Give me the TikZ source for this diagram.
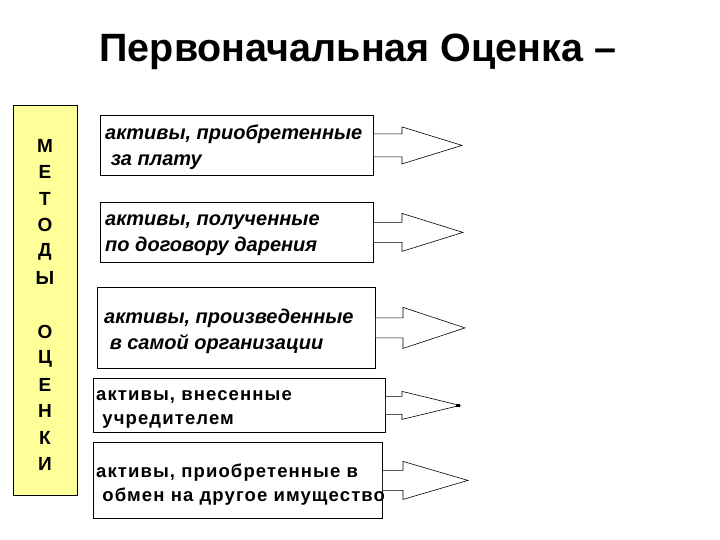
\documentclass[tikz,border=0pt]{standalone}
\usepackage{fontspec}
\setmainfont{Liberation Sans}
\newfontfamily\spacedfont[LetterSpace=6]{Liberation Sans}
\definecolor{paleyellow}{HTML}{FFFF99}
\begin{document}
\begin{tikzpicture}[x=1pt,y=-1pt,
  box/.style={draw=black, line width=0.8pt, fill=white, inner sep=0pt, anchor=north west},
  boxtext/.style={anchor=west, align=left, inner sep=0pt, font=\fontsize{20}{26}\selectfont\bfseries\itshape},
  boxtextup/.style={anchor=west, align=left, inner sep=0pt, font=\fontsize{18.5}{24}\selectfont\bfseries\spacedfont},
  arrowshape/.style={draw=black, line width=0.6pt, fill=white, line join=miter},
  letter/.style={font=\fontsize{19}{19}\selectfont\bfseries, inner sep=0pt}
]
\useasboundingbox (0,0) rectangle (720,540);
\fill[white] (0,0) rectangle (720,540);

% title
\node[font=\fontsize{39.5}{44}\selectfont\bfseries, anchor=center] (title) at (358,52) {Первоначальная Оценка –};

% yellow column
\node[draw=black, line width=0.6pt, fill=paleyellow, minimum width=64pt, minimum height=390pt, anchor=north west, inner sep=0pt] (col) at (13,105) {};
\foreach \t/\yy [count=\i] in {М/146,Е/172.4,Т/198.8,О/225.2,Д/251.6,Ы/278,О/332,Ц/358.4,Е/384.8,Н/411.2,К/437.6,И/464}
  \node[letter] (l\i) at (45,\yy) {\t};

% boxes
\node[box, minimum width=273pt, minimum height=60pt] (b1) at (100,115) {};
\node[box, minimum width=273pt, minimum height=60pt] (b2) at (100,202) {};
\node[box, minimum width=278pt, minimum height=81pt] (b3) at (97,287) {};
\node[box, minimum width=292pt, minimum height=54pt] (b4) at (93,378) {};
\node[box, minimum width=289pt, minimum height=76pt] (b5) at (93,442) {};

% arrows (shaft half-height, head half-height, head base x, tip x)
\foreach \b/\sh/\hh/\base/\tip in {b1/11.5/18.5/402/462, b2/10/19/402/463, b3/10/20.5/403/465, b4/9/14/402/460, b5/10/19/403/468}{
  \coordinate (\b tip) at (\b.east -| \tip,0);
  \draw[arrowshape] ([yshift=-\sh pt]\b.east) -- ([yshift=-\sh pt]\b.east -| \base,0)
     -- ([yshift=-\hh pt]\b.east -| \base,0) -- (\b tip)
     -- ([yshift=\hh pt]\b.east -| \base,0) -- ([yshift=\sh pt]\b.east -| \base,0)
     -- ([yshift=\sh pt]\b.east);
}
\fill[black] ([xshift=-4pt,yshift=-1.2pt]b4tip) rectangle ([yshift=1.2pt]b4tip);

% texts
\node[boxtext] (t1) at ([xshift=5pt,yshift=-2pt]b1.west) {активы, приобретенные\\\ за плату};
\node[boxtext] (t2) at ([xshift=5pt,yshift=-3pt]b2.west) {активы, полученные\\по договору дарения};
\node[boxtext] (t3) at ([xshift=7pt,yshift=-3pt]b3.west) {активы, произведенные\\\ в самой организации};
\node[boxtextup] (t4) at ([xshift=3pt,yshift=-4pt]b4.west) {активы, внесенные\\\ учредителем};
\node[boxtextup] (t5) at ([xshift=3pt,yshift=-4pt]b5.west) {активы, приобретенные в\\\ обмен на другое имущество};
\end{tikzpicture}
\end{document}
